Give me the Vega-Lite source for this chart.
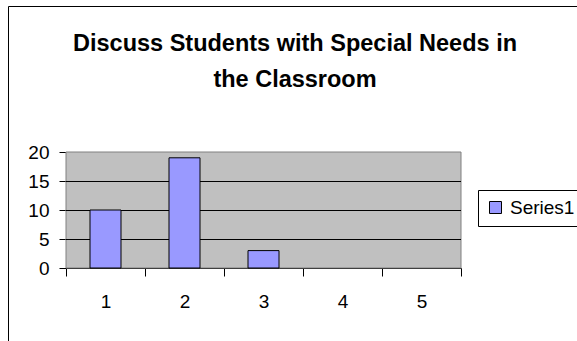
{
  "$schema": "https://vega.github.io/schema/vega-lite/v6.json",
  "width": 570,
  "height": 336,
  "autosize": {"type": "none"},
  "padding": {"left": 8, "top": 6, "right": -1, "bottom": -1},
  "background": "white",
  "config": {
    "view": {"stroke": "black", "strokeWidth": 1, "fill": "white"},
    "font": "Liberation Sans"
  },
  "title": {
    "text": ["Discuss Students with Special Needs in", "the Classroom"],
    "font": "Liberation Sans",
    "fontSize": 23.5,
    "fontWeight": "bold",
    "color": "black",
    "lineHeight": 36,
    "anchor": "middle",
    "frame": "group",
    "baseline": "alphabetic",
    "offset": -104,
    "dx": 2
  },
  "data": {
    "values": [
      {"category": 1, "value": 10, "series": "Series1"},
      {"category": 2, "value": 19, "series": "Series1"},
      {"category": 3, "value": 3, "series": "Series1"}
    ]
  },
  "layer": [
    {
      "data": {"values": [{}]},
      "mark": {"type": "rect", "fill": "#C0C0C0", "stroke": "#808080", "strokeWidth": 1},
      "encoding": {
        "x": {"datum": 0.5, "type": "quantitative"},
        "x2": {"datum": 5.5},
        "y": {"datum": 0, "type": "quantitative"},
        "y2": {"datum": 20}
      }
    },
    {
      "data": {"values": [{"gridValue": 5}, {"gridValue": 10}, {"gridValue": 15}]},
      "mark": {"type": "rule", "color": "black", "strokeWidth": 1, "yOffset": 0.5},
      "encoding": {
        "x": {"datum": 0.5, "type": "quantitative"},
        "x2": {"datum": 5.5},
        "y": {"field": "gridValue", "type": "quantitative"}
      }
    },
    {
      "mark": {"type": "bar", "width": 31, "stroke": "black", "strokeWidth": 1},
      "encoding": {
        "x": {
          "field": "category",
          "type": "quantitative",
          "scale": {"domain": [0.5, 5.5], "range": [58, 453], "padding": 0, "nice": false, "zero": false},
          "axis": {
            "values": [0.5, 1, 1.5, 2, 2.5, 3, 3.5, 4, 4.5, 5, 5.5],
            "offset": -74,
            "title": null,
            "grid": false,
            "domainColor": "black",
            "tickColor": "black",
            "tickSize": 8,
            "tickOpacity": {"condition": {"test": "datum.value % 1 === 0", "value": 0}, "value": 1},
            "labelExpr": "datum.value % 1 === 0 ? format(datum.value, 'd') : ''",
            "labelFont": "Liberation Sans",
            "labelFontSize": 19,
            "labelColor": "black",
            "labelPadding": 16,
            "labelOverlap": false,
            "labelFlush": false
          }
        },
        "y": {
          "field": "value",
          "type": "quantitative",
          "scale": {"domain": [0, 20], "range": [262, 146], "nice": false},
          "axis": {
            "values": [0, 5, 10, 15, 20],
            "offset": -58,
            "title": null,
            "grid": false,
            "domainColor": "black",
            "tickColor": "black",
            "tickSize": 7,
            "labelFont": "Liberation Sans",
            "labelFontSize": 19,
            "labelColor": "black",
            "labelPadding": 10
          }
        },
        "color": {
          "field": "series",
          "type": "nominal",
          "scale": {"domain": ["Series1"], "range": ["#9999FF"]},
          "legend": {
            "title": null,
            "orient": "none",
            "legendX": 470,
            "legendY": 184,
            "symbolType": "square",
            "symbolSize": 144,
            "symbolStrokeColor": "black",
            "symbolStrokeWidth": 1,
            "symbolOpacity": 1,
            "labelFont": "Liberation Sans",
            "labelFontSize": 19,
            "labelColor": "black",
            "labelOffset": 5,
            "padding": 8,
            "strokeColor": "black",
            "fillColor": "white"
          }
        }
      }
    }
  ]
}
